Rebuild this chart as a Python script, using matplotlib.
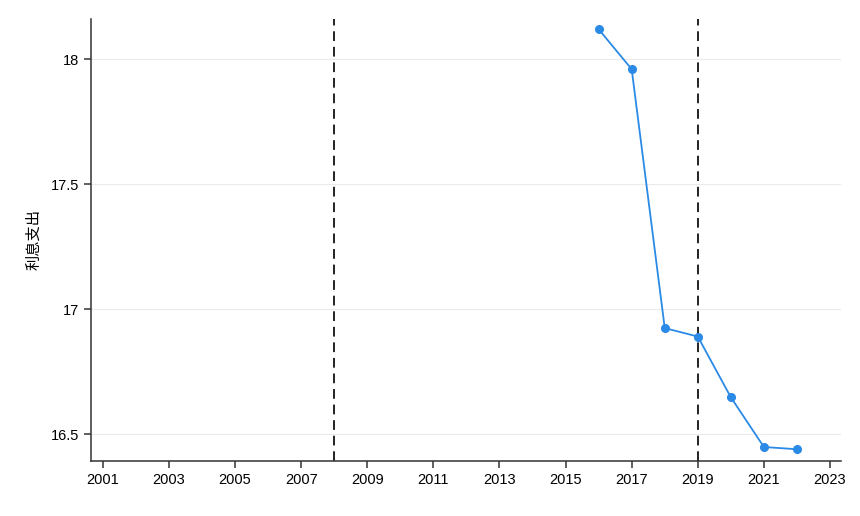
import matplotlib
matplotlib.use("Agg")
import matplotlib.pyplot as plt

# data
years = [2016, 2017, 2018, 2019, 2020, 2021, 2022]
interest = [18.12, 17.96, 16.924, 16.89, 16.647, 16.448, 16.439]
event_years = [2008, 2019]
xticks = list(range(2001, 2024, 2))
yticks = [16.5, 17, 17.5, 18]
ylabel = "利息支出"

plt.rcParams['font.family'] = ['Liberation Sans', 'Noto Sans CJK SC', 'DejaVu Sans']

fig = plt.figure(figsize=(8.6, 5.16), dpi=100)
ax = fig.add_axes([0.1058, 0.1066, 0.872, 0.8566])

for y in yticks:
    ax.axhline(y, color="#ebebeb", lw=0.8, zorder=0)

for x in event_years:
    ax.axvline(x, color="#222222", ls=(0, (5, 3)), lw=1.4, zorder=1)

ax.plot(years, interest, color="#2a8ae6", lw=1.3, marker="o", ms=5.5, zorder=3)

ax.set_xlim(2000.64, 2023.33)
ax.set_ylim(16.392, 18.161)
ax.set_xticks(xticks)
ax.set_yticks(yticks)
ax.set_yticklabels(["16.5", "17", "17.5", "18"])
ax.tick_params(labelsize=10.5, length=5, width=1.1, color="#333333")

for side in ["top", "right"]:
    ax.spines[side].set_visible(False)
for side in ["left", "bottom"]:
    ax.spines[side].set_linewidth(1.1)
    ax.spines[side].set_color("#333333")

ax.set_ylabel(ylabel, fontsize=11, family=['Noto Sans CJK SC', 'DejaVu Sans'], labelpad=6)

fig.savefig("out.png", dpi=100)
